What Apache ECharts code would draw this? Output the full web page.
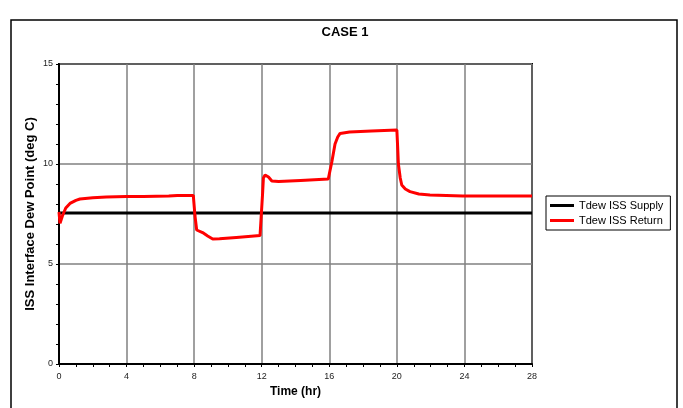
<!DOCTYPE html>
<html><head><meta charset="utf-8">
<script src="https://cdn.jsdelivr.net/npm/echarts@6/dist/echarts.min.js"></script>
<style>html,body{margin:0;padding:0;background:#fff}#c{width:683px;height:408px}</style>
</head><body><div id="c"></div>
<script>
const seriesNames = ['Tdew ISS Supply', 'Tdew ISS Return'];
const yAxisTitle = 'ISS Interface Dew Point (deg C)';
const supplyTime = [0, 28];
const supplyValues = [7.55, 7.55];
const returnTime = [0,0.06,0.2,0.4,0.65,1.0,1.24,2.0,2.8,4,5,6.5,6.6,7,7.95,8.05,8.15,8.5,8.8,9.1,9.5,10.5,11.9,12.0,12.05,12.1,12.2,12.4,12.6,13,14.3,15.94,16.05,16.15,16.34,16.5,16.64,17.2,18.5,20,20.05,20.09,20.2,20.29,20.5,20.78,21.3,21.96,23.9,28];
const returnValues = [7.6,7.03,7.4,7.8,8.03,8.18,8.25,8.31,8.35,8.37,8.38,8.4,8.45,8.43,8.43,7.4,6.7,6.57,6.4,6.25,6.26,6.33,6.42,6.45,8.5,9.3,9.45,9.35,9.15,9.12,9.18,9.25,9.7,10.1,11.0,11.35,11.53,11.6,11.65,11.7,10.8,10.0,9.3,8.95,8.75,8.62,8.5,8.45,8.4,8.4];
const xTicks = [0,4,8,12,16,20,24,28];
const yTicks = [0,5,10,15];

const zip = (a,b) => a.map((v,i)=>[v,b[i]]);
const chart = echarts.init(document.getElementById('c'), null, {renderer:'canvas'});
const font = 'Liberation Sans, Arial, sans-serif';
chart.setOption({
  animation:false,
  backgroundColor:'#fff',
  title:{text:'CASE 1', left:340, top:21, textAlign:'center',
    textStyle:{fontFamily:font, fontSize:13, fontWeight:'bold', color:'#000'}},
  graphic:[
    {type:'rect', shape:{x:11,y:20,width:666,height:400}, style:{fill:'none', stroke:'#000', lineWidth:1.5}, z:-1},
    {type:'text', x:30, y:214, rotation:Math.PI/2, style:{text:yAxisTitle, fontFamily:font, fontSize:13, fontWeight:'bold', fill:'#000', align:'center', verticalAlign:'middle'}}
  ],
  grid:{left:59, right:151, top:64, bottom:44, show:true, borderColor:'#000', borderWidth:2},
  legend:{orient:'vertical', left:546, top:196, data:seriesNames, itemWidth:24, itemHeight:3, icon:'rect', itemGap:4,
    borderColor:'#000', borderWidth:1, padding:[4,7,4,4],
    textStyle:{fontFamily:font, fontSize:11, color:'#000'}, itemStyle:{borderWidth:0}},
  xAxis:{type:'value', min:0, max:28, interval:4, name:'Time (hr)', nameLocation:'middle', nameGap:22,
    nameTextStyle:{fontFamily:font, fontSize:12, fontWeight:'bold', color:'#000'},
    axisLine:{lineStyle:{color:'#000', width:2}},
    axisTick:{show:true, inside:false, length:3, lineStyle:{color:'#000'}},
    minorTick:{show:true, splitNumber:4, length:3, lineStyle:{color:'#000'}},
    axisLabel:{fontFamily:font, fontSize:9, color:'#222', margin:8, formatter:v=>xTicks.includes(v)?String(v):''},
    splitLine:{show:true, lineStyle:{color:'#808080', width:1.5}}},
  yAxis:{type:'value', min:0, max:15, interval:5,
    axisLine:{lineStyle:{color:'#000', width:2}},
    axisTick:{show:true, length:3, lineStyle:{color:'#000'}},
    minorTick:{show:true, splitNumber:5, length:3, lineStyle:{color:'#000'}},
    axisLabel:{fontFamily:font, fontSize:9, color:'#222', margin:6, formatter:v=>yTicks.includes(v)?String(v):''},
    splitLine:{show:true, lineStyle:{color:'#808080', width:1.5}}},
  series:[
    {name:seriesNames[0], type:'line', data:zip(supplyTime, supplyValues), showSymbol:false, color:'#000',
      lineStyle:{color:'#000', width:3}},
    {name:seriesNames[1], type:'line', data:zip(returnTime, returnValues), showSymbol:false, color:'#ff0000',
      lineStyle:{color:'#ff0000', width:3}}
  ]
});
</script></body></html>
